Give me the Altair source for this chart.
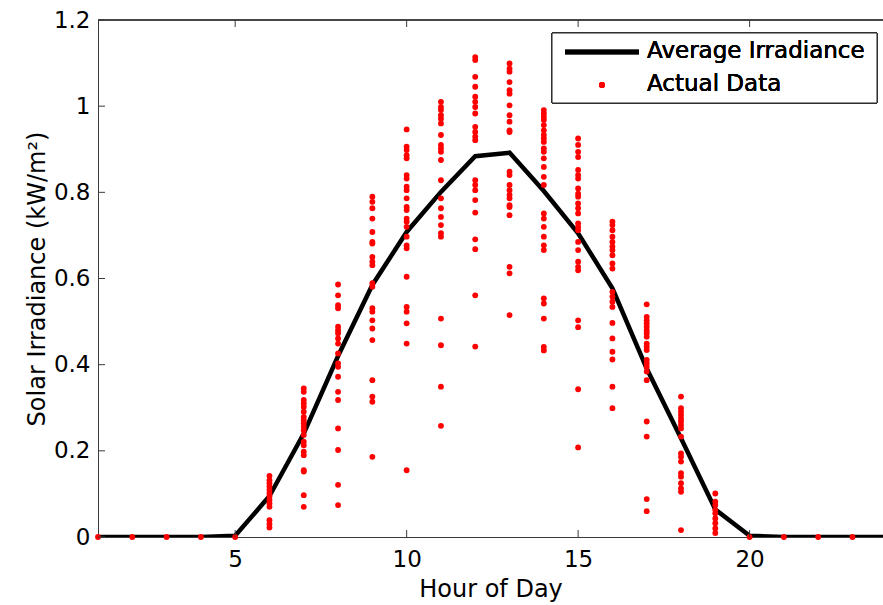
import altair as alt
import pandas as pd

# ---------------- data ----------------
avg_hours = list(range(1, 25))
avg_irradiance = [0, 0, 0, 0, 0.003, 0.095, 0.24, 0.42, 0.585, 0.708, 0.801, 0.884,
                  0.892, 0.803, 0.705, 0.577, 0.391, 0.229, 0.064, 0.003, 0, 0, 0, 0]

zero_hours = [1, 2, 3, 4, 5, 20, 21, 22, 23]
h6 = [0.142, 0.132, 0.125, 0.117, 0.109, 0.101, 0.094, 0.086, 0.078, 0.070, 0.039, 0.030, 0.022]
h7 = [0.345, 0.337, 0.318, 0.310, 0.302, 0.291, 0.279, 0.271, 0.264, 0.256, 0.248, 0.237,
      0.221, 0.213, 0.198, 0.190, 0.155, 0.152, 0.097, 0.070]
h8 = [0.586, 0.561, 0.538, 0.531, 0.488, 0.480, 0.473, 0.461, 0.449, 0.426, 0.403, 0.395,
      0.372, 0.337, 0.318, 0.252, 0.202, 0.121, 0.074]
h9 = [0.790, 0.778, 0.763, 0.739, 0.708, 0.685, 0.681, 0.650, 0.639, 0.631, 0.589, 0.581,
      0.531, 0.523, 0.503, 0.484, 0.457, 0.364, 0.326, 0.314, 0.186]
h10 = [0.946, 0.906, 0.898, 0.886, 0.879, 0.840, 0.832, 0.813, 0.805, 0.786, 0.766, 0.759,
       0.739, 0.732, 0.720, 0.697, 0.677, 0.670, 0.604, 0.534, 0.523, 0.496, 0.449, 0.155]
h11 = [1.010, 0.998, 0.991, 0.979, 0.971, 0.960, 0.933, 0.910, 0.902, 0.894, 0.875, 0.828,
       0.786, 0.763, 0.743, 0.724, 0.705, 0.697, 0.507, 0.445, 0.349, 0.258]
h12 = [1.114, 1.107, 1.068, 1.045, 1.022, 1.010, 0.998, 0.983, 0.952, 0.940, 0.929, 0.921,
       0.828, 0.817, 0.805, 0.782, 0.753, 0.691, 0.668, 0.561, 0.442]
h13 = [1.099, 1.087, 1.080, 1.056, 1.037, 1.029, 1.002, 0.979, 0.964, 0.944, 0.940, 0.848,
       0.840, 0.817, 0.805, 0.794, 0.786, 0.770, 0.766, 0.747, 0.627, 0.612, 0.515]
h14 = [0.991, 0.983, 0.975, 0.968, 0.956, 0.944, 0.933, 0.925, 0.917, 0.902, 0.894, 0.879,
       0.859, 0.836, 0.817, 0.751, 0.739, 0.720, 0.697, 0.677, 0.666, 0.554, 0.542, 0.507,
       0.441, 0.433]
h15 = [0.925, 0.910, 0.894, 0.882, 0.852, 0.840, 0.832, 0.809, 0.797, 0.790, 0.774, 0.763,
       0.751, 0.728, 0.720, 0.712, 0.685, 0.666, 0.639, 0.627, 0.619, 0.503, 0.487, 0.343,
       0.208]
h16 = [0.732, 0.724, 0.712, 0.697, 0.685, 0.674, 0.666, 0.654, 0.635, 0.623, 0.569, 0.558,
       0.546, 0.534, 0.497, 0.461, 0.430, 0.412, 0.349, 0.299]
h17 = [0.540, 0.511, 0.503, 0.496, 0.488, 0.480, 0.473, 0.465, 0.449, 0.442, 0.434, 0.411,
       0.403, 0.395, 0.384, 0.364, 0.268, 0.233, 0.088, 0.060]
h18 = [0.326, 0.299, 0.291, 0.283, 0.275, 0.268, 0.260, 0.252, 0.233, 0.194, 0.186, 0.175,
       0.148, 0.140, 0.125, 0.113, 0.105, 0.016]
h19 = [0.101, 0.082, 0.074, 0.063, 0.055, 0.043, 0.032, 0.020, 0.009]

x_tick_values = [5, 10, 15, 20]
y_tick_values = [0, 0.2, 0.4, 0.6, 0.8, 1.0, 1.2]
legend_labels = ["Average Irradiance", "Actual Data"]
x_title = "Hour of Day"
y_title = "Solar Irradiance (kW/m\u00b2)"

# ---------------- tables ----------------
by_hour = {6: h6, 7: h7, 8: h8, 9: h9, 10: h10, 11: h11, 12: h12, 13: h13,
           14: h14, 15: h15, 16: h16, 17: h17, 18: h18, 19: h19}
rows = [{"hour": h, "irr": 0.0} for h in zero_hours]
for h, vals in by_hour.items():
    rows += [{"hour": h, "irr": v} for v in vals]
pts = pd.DataFrame(rows)
avg = pd.DataFrame({"hour": avg_hours, "irr": avg_irradiance})
xt = pd.DataFrame({"hour": x_tick_values})
yt = pd.DataFrame({"irr": y_tick_values})

FONT = "DejaVu Sans"
W, H = 785, 517
AX = "#3a3a3a"
xscale = alt.Scale(domain=[1, 23.89], nice=False, zero=False)
yscale = alt.Scale(domain=[0, 1.2], nice=False)
xaxis = alt.Axis(values=x_tick_values, format="d", tickSize=0, labelPadding=11,
                 titlePadding=6, grid=False)
yaxis = alt.Axis(values=y_tick_values, format="~g", tickSize=0, labelPadding=8,
                 titlePadding=4, grid=False)


def X(field="hour"):
    return alt.X(f"{field}:Q", scale=xscale, title=x_title, axis=xaxis)


def Y(field="irr"):
    return alt.Y(f"{field}:Q", scale=yscale, title=y_title, axis=yaxis)


line = alt.Chart(avg).mark_line(color="black", strokeWidth=4.5, clip=True).encode(x=X(), y=Y())

dots = alt.Chart(pts).mark_point(filled=True, color="#ff0000", size=34, opacity=1
                                 ).encode(x=X(), y=Y())

xt_bottom = alt.Chart(xt).mark_rule(color=AX, strokeWidth=1).encode(
    x=X(), y=alt.value(H), y2=alt.value(H - 7))
xt_top = alt.Chart(xt).mark_rule(color=AX, strokeWidth=1).encode(
    x=X(), y=alt.value(0), y2=alt.value(7))
yt_left = alt.Chart(yt).mark_rule(color=AX, strokeWidth=1).encode(
    y=Y(), x=alt.value(0), x2=alt.value(7))
top_frame = alt.Chart(xt).mark_rule(color=AX, strokeWidth=1).encode(
    x=alt.value(0), x2=alt.value(W), y=alt.value(0))

# legend (drawn manually, MATLAB style)
leg_box = alt.Chart(xt).mark_rect(fill="white", stroke="#222", strokeWidth=1).encode(
    x=alt.value(454), x2=alt.value(779), y=alt.value(13), y2=alt.value(83))
leg_line = alt.Chart(xt).mark_rule(color="black", strokeWidth=4.5).encode(
    x=alt.value(467), x2=alt.value(541), y=alt.value(32))
leg_dot = alt.Chart(xt).mark_point(filled=True, color="#ff0000", size=34, opacity=1).encode(
    x=alt.value(504), y=alt.value(65))
leg_t1 = alt.Chart(xt).mark_text(text=legend_labels[0], align="left", baseline="middle",
                                 font=FONT, fontSize=23, color="black").encode(
    x=alt.value(549), y=alt.value(31))
leg_t2 = alt.Chart(xt).mark_text(text=legend_labels[1], align="left", baseline="middle",
                                 font=FONT, fontSize=23, color="black").encode(
    x=alt.value(549), y=alt.value(64))

chart = alt.layer(
    line, dots, xt_bottom, xt_top, yt_left, top_frame,
    leg_box, leg_line, leg_dot, leg_t1, leg_t2
).properties(
    width=W, height=H,
    autosize=alt.AutoSizeParams(type="none"),
    padding={"left": 98, "top": 20, "right": 0, "bottom": 68},
    background="white",
).configure_view(stroke=None).configure_axis(
    domainColor=AX, domainWidth=1, labelFont=FONT, labelFontSize=23, labelColor="black",
    titleFont=FONT, titleFontSize=24, titleFontWeight="normal", titleColor="black",
)

chart.save("out.html", embed_options={"renderer": "svg", "actions": False})
